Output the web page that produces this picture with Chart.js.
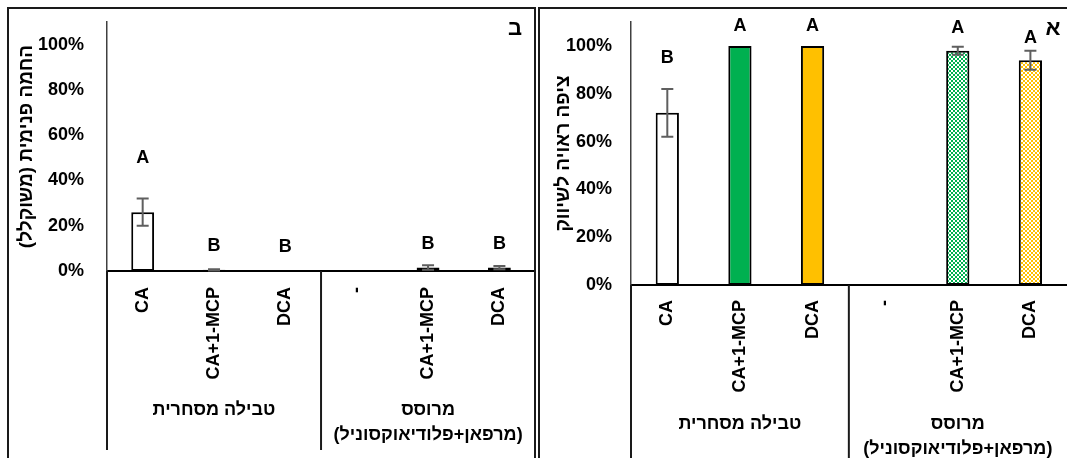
<!DOCTYPE html>
<html>
<head>
<meta charset="utf-8">
<script src="https://cdn.jsdelivr.net/npm/chart.js@4"></script>
<style>
  body { margin: 0; background: #fff; width: 1067px; height: 458px; overflow: hidden; position: relative; }
  .panel { position: absolute; border: 2px solid #1a1a1a; box-sizing: border-box; }
  canvas { position: absolute; }
</style>
</head>
<body>
<canvas id="browningChart" dir="rtl" width="529" height="450" style="left:8px; top:8px;"></canvas>
<canvas id="peelChart" dir="rtl" width="528" height="450" style="left:539px; top:8px;"></canvas>
<div class="panel" style="left:7px; top:7px; width:529px; height:470px;"></div>
<div class="panel" style="left:538px; top:7px; width:540px; height:470px;"></div>
<script>
// קטגוריות
const treatments = ['CA', 'CA+1-MCP', 'DCA', '-', 'CA+1-MCP', 'DCA'];
const groups = [['טבילה מסחרית'], ['מרוסס', '(מרפאן+פלודיאוקסוניל)']];
const yTicks = [0, 0.2, 0.4, 0.6, 0.8, 1.0];

// ב: החמה פנימית
const browningValues = [0.26, 0.005, 0, null, 0.015, 0.015];
const browningErrors = [0.06, 0.003, 0, null, 0.01, 0.007];
const browningLetters = ['A', 'B', 'B', '', 'B', 'B'];
const browningLetterAt = [0.50, 0.11, 0.105, null, 0.12, 0.12];

// א: ציפה ראויה לשיווק
const peelValues = [0.72, 1.0, 1.0, null, 0.98, 0.94];
const peelErrors = [0.10, 0, 0, null, 0.017, 0.04];
const peelLetters = ['B', 'A', 'A', '', 'A', 'A'];
const peelLetterAt = [0.95, 1.084, 1.084, null, 1.075, 1.033];

const FONT = '"Liberation Sans", "DejaVu Sans", Arial, sans-serif';

function checker(color) {
    const c = document.createElement('canvas');
    c.width = 4; c.height = 4;
    const g = c.getContext('2d');
    g.fillStyle = '#ffffff';
    g.fillRect(0, 0, 4, 4);
    g.fillStyle = color;
    g.fillRect(0, 0, 2, 2);
    g.fillRect(2, 2, 2, 2);
    return g.createPattern(c, 'repeat');
}

const barFills = ['#ffffff', '#00b050', '#ffc000', '#ffffff', checker('#00b050'), checker('#ffc000')];

// פס שגיאה, אותיות, קווי הפרדה ותוויות קבוצה
const extras = {
    id: 'extras',
    afterDatasetsDraw(chart, args, opts) {
        const { ctx, chartArea, scales: { x, y } } = chart;
        ctx.save();

        ctx.strokeStyle = '#5f5f5f';
        ctx.lineWidth = 2;
        opts.values.forEach((v, i) => {
            const e = opts.errors[i];
            if (v == null || !e) return;
            const px = x.getPixelForValue(i);
            const top = y.getPixelForValue(v + e);
            const bot = y.getPixelForValue(Math.max(v - e, 0));
            ctx.beginPath();
            ctx.moveTo(px, top); ctx.lineTo(px, bot);
            ctx.moveTo(px - 6, top); ctx.lineTo(px + 6, top);
            ctx.moveTo(px - 6, bot); ctx.lineTo(px + 6, bot);
            ctx.stroke();
        });

        ctx.fillStyle = '#000';
        ctx.font = 'bold 18px ' + FONT;
        ctx.textAlign = 'center';
        ctx.textBaseline = 'middle';
        opts.letters.forEach((t, i) => {
            if (!t) return;
            ctx.fillText(t, x.getPixelForValue(i), y.getPixelForValue(opts.letterAt[i]));
        });

        // קווי הפרדה של ציר הקטגוריות
        ctx.strokeStyle = '#1a1a1a';
        ctx.lineWidth = 2;
        const midX = (x.getPixelForValue(2) + x.getPixelForValue(3)) / 2;
        [chartArea.left, midX].forEach(px => {
            ctx.beginPath();
            ctx.moveTo(px, chartArea.bottom);
            ctx.lineTo(px, opts.sepEnd);
            ctx.stroke();
        });

        ctx.direction = 'rtl';
        groups.forEach((lines, gi) => {
            const cx = x.getPixelForValue(gi * 3 + 1);
            lines.forEach((line, li) => {
                ctx.fillText(line, cx, chartArea.bottom + opts.groupOffset + li * 25.5);
            });
        });

        ctx.font = 'bold 22px ' + FONT;
        ctx.fillText(opts.panel, opts.panelX, 21);
        ctx.restore();
    }
};

function makeChart(id, title, values, errors, letters, letterAt, cfg) {
    return new Chart(document.getElementById(id), {
        type: 'bar',
        data: {
            labels: treatments,
            datasets: [{
                data: values,
                backgroundColor: barFills,
                borderColor: '#000000',
                borderWidth: 2,
                borderSkipped: false,
                categoryPercentage: 1,
                barPercentage: 0.32
            }]
        },
        options: {
            responsive: false,
            animation: false,
            devicePixelRatio: 1,
            layout: { padding: { top: 14, left: 0, right: 0, bottom: 0 } },
            plugins: {
                legend: { display: false },
                tooltip: { enabled: false },
                extras: {
                    values: values, errors: errors, letters: letters, letterAt: letterAt,
                    sepEnd: cfg.sepEnd, groupOffset: 139, panel: cfg.panel, panelX: cfg.panelX
                }
            },
            scales: {
                x: {
                    grid: { display: false, drawTicks: false },
                    border: { display: true, color: '#000000', width: 2 },
                    ticks: {
                        maxRotation: 90, minRotation: 90, autoSkip: false,
                        padding: cfg.xPad, color: '#000',
                        font: { family: FONT, size: 18, weight: 'bold' }
                    },
                    afterFit: s => { s.height = cfg.xHeight; }
                },
                y: {
                    min: 0,
                    max: 1.1,
                    grid: { display: false, drawTicks: false },
                    border: { display: true, color: '#404040', width: 1.5 },
                    afterBuildTicks: s => { s.ticks = yTicks.map(v => ({ value: v })); },
                    ticks: {
                        padding: cfg.yPad, color: '#000',
                        font: { family: FONT, size: 18, weight: 'bold' },
                        callback: v => Math.round(v * 100) + '%'
                    },
                    title: {
                        display: true, text: title, color: '#000',
                        padding: { top: cfg.titlePad, bottom: 0 },
                        font: { family: FONT, size: 19, weight: 'bold' }
                    },
                    afterFit: s => { s.width = cfg.yWidth; s.paddingTop = 0; s.paddingBottom = 0; }
                }
            }
        },
        plugins: [extras]
    });
}

makeChart('browningChart', 'החמה פנימית (משוקלל)', browningValues, browningErrors, browningLetters, browningLetterAt,
    { xHeight: 187, yWidth: 99, xPad: 16, yPad: 23, titlePad: 7, sepEnd: 442, panel: 'ב', panelX: 507 });

makeChart('peelChart', 'ציפה ראויה לשיווק', peelValues, peelErrors, peelLetters, peelLetterAt,
    { xHeight: 173, yWidth: 92, xPad: 15, yPad: 19, titlePad: 13, sepEnd: 450, panel: 'א', panelX: 514 });
</script>
</body>
</html>
